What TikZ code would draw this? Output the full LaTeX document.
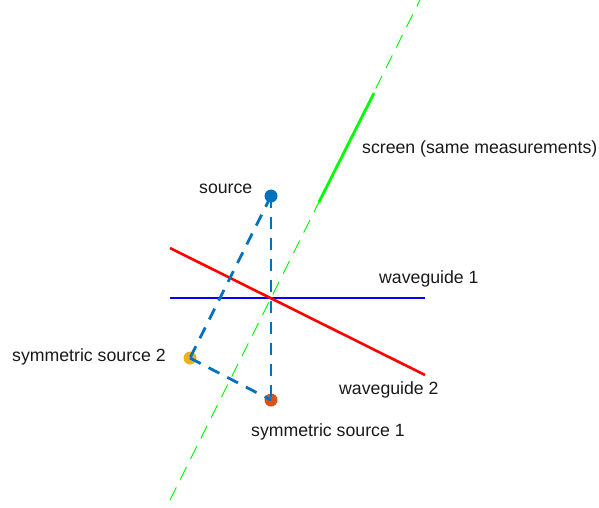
\documentclass[tikz,border=0pt]{standalone}
\usepackage{fontspec}
\setmainfont{Liberation Sans}
\definecolor{wgblue}{RGB}{0,0,255}
\definecolor{wgred}{RGB}{255,0,0}
\definecolor{scrgreen}{RGB}{0,255,0}
\definecolor{mblue}{RGB}{0,114,189}
\definecolor{morange}{RGB}{217,83,25}
\definecolor{myellow}{RGB}{237,177,32}
\begin{document}
\begin{tikzpicture}[x=1pt,y=-1pt,
  lab/.style={font=\fontsize{17.7}{20}\selectfont, inner sep=0pt, anchor=base west, text=black!90},
  dot/.style={circle, inner sep=0pt, minimum size=13pt, draw=none},
  guide/.style={line width=2.6pt},
  dline/.style={mblue, line width=2.8pt, dash pattern=on 12pt off 9pt},
  scrdash/.style={scrgreen, line width=1.1pt, dash pattern=on 14pt off 9pt},
  scrsolid/.style={scrgreen, line width=2.8pt}]
\useasboundingbox (0,0) rectangle (599,507);
% screen
\coordinate (gA) at (170,500);
\coordinate (gB) at (420,0);
\coordinate (gS1) at (319,202);
\coordinate (gS2) at (374,93);
% waveguides
\coordinate (w1a) at (170,298);
\coordinate (w1b) at (425,298);
\coordinate (w2a) at (170,248);
\coordinate (w2b) at (425,375);
\draw[guide, wgblue] (w1a) -- (w1b);
\draw[guide, wgred] (w2a) -- (w2b);
\draw[scrdash] (gA) -- (gB);
\draw[scrsolid] (gS1) -- (gS2);
% sources
\node[dot, fill=mblue] (src) at (271,196) {};
\node[dot, fill=morange] (sym1) at (271,400) {};
\node[dot, fill=myellow] (sym2) at (190,358) {};
\draw[dline] (src.center) -- (sym1.center);
\draw[dline] (src.center) -- (sym2.center);
\draw[dline] (sym2.center) -- (sym1.center);
% labels
\node[lab] (lsrc) at (199,193) {source};
\node[lab] (lw1) at (379,283) {waveguide 1};
\node[lab] (lw2) at (339,394) {waveguide 2};
\node[lab] (ls1) at (251,436) {symmetric source 1};
\node[lab] (ls2) at (12,361) {symmetric source 2};
\node[lab] (lscr) at (362,153) {screen (same measurements)};
\end{tikzpicture}
\end{document}
